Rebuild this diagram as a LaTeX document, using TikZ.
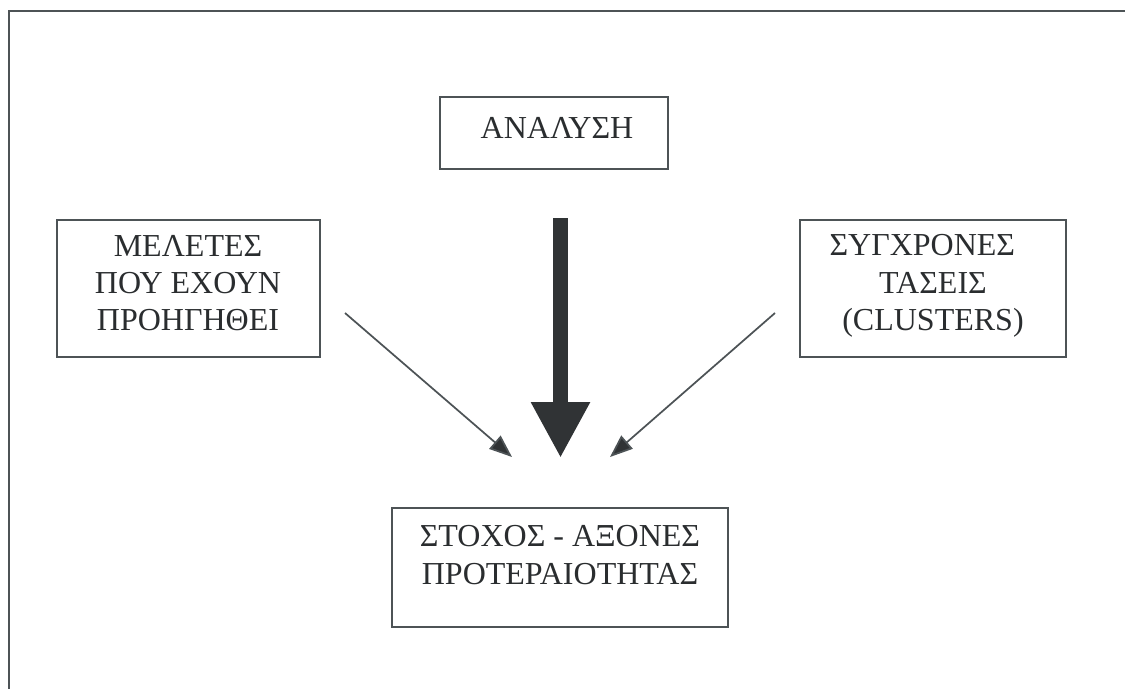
\documentclass[tikz,border=0pt]{standalone}
\usepackage{fontspec}
\setmainfont{Liberation Serif}
\usetikzlibrary{arrows.meta,fit}
\definecolor{linegray}{HTML}{4D5356}
\definecolor{txtgray}{HTML}{2A2D2F}
\definecolor{arrowgray}{HTML}{303335}
\tikzset{
  frameline/.style={draw=linegray, line width=1.6pt},
  box/.style={draw=linegray, line width=1.5pt, inner sep=0pt, rectangle},
  txt/.style={text=txtgray, align=center, inner sep=0pt,
    font=\fontsize{24}{28}\selectfont},
  thin/.style={draw=linegray, line width=1.3pt,
    -{Triangle[length=17pt, width=13pt, fill=arrowgray]}},
  thick/.style={draw=arrowgray, line width=11.5pt,
    -{Triangle[length=42pt, width=41.5pt, fill=arrowgray]}}
}
\begin{document}
\begin{tikzpicture}[x=0.75pt, y=-0.75pt]
\useasboundingbox (0,0) rectangle (1125,689);
% outer frame
\coordinate (fbl) at (9,689);
\coordinate (ftl) at (9,11);
\coordinate (ftr) at (1125,11);
\draw[frameline] (fbl) -- (ftl) -- (ftr);
% boxes
\node[box, fit={(440,97) (668,169)}] (ana) {};
\node[txt] (anat) at (557,128) {ΑΝΑΛΥΣΗ};
\node[box, fit={(57,220) (320,357)}] (mel) {};
\node[txt] (melt) at (188,283) {ΜΕΛΕΤΕΣ\\ΠΟΥ ΕΧΟΥΝ\\ΠΡΟΗΓΗΘΕΙ};
\node[box, fit={(800,220) (1066,357)}] (syg) {};
\node[txt] (sygt) at (933,286) {\mbox{ΣΥΓΧΡΟΝΕΣ\hspace{16pt}}\\ΤΑΣΕΙΣ\\(CLUSTERS)};
\node[box, fit={(392,508) (728,627)}] (sto) {};
\node[txt] (stot) at (560,555) {ΣΤΟΧΟΣ - ΑΞΟΝΕΣ\\ΠΡΟΤΕΡΑΙΟΤΗΤΑΣ};
% arrows
\coordinate (la1) at (345,313);
\coordinate (la2) at (512,457);
\coordinate (ra1) at (775,313);
\coordinate (ra2) at (610,457);
\coordinate (ta1) at (560.5,218);
\coordinate (ta2) at (560.5,458);
\draw[thin] (la1) -- (la2);
\draw[thin] (ra1) -- (ra2);
\draw[thick] (ta1) -- (ta2);
\end{tikzpicture}
\end{document}
